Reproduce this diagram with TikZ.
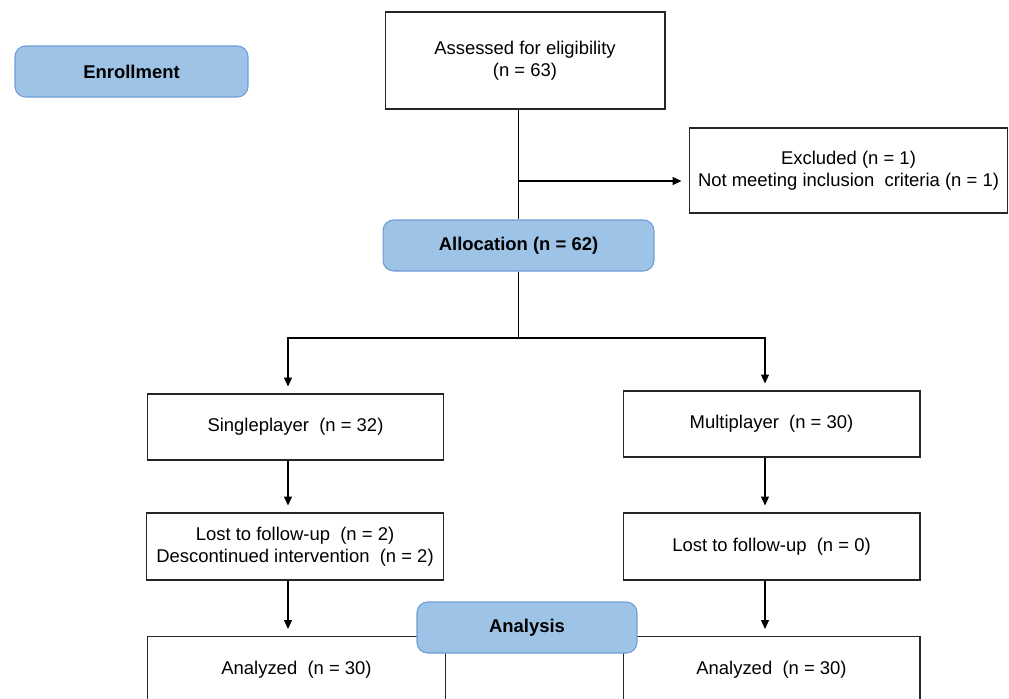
\documentclass[tikz,border=0pt]{standalone}
\usepackage{fontspec}
\setmainfont{Liberation Sans}
\usetikzlibrary{arrows.meta}
\definecolor{phasefill}{RGB}{157,195,230}
\definecolor{phaseline}{RGB}{112,156,214}

\begin{document}
\begin{tikzpicture}[x=0.02cm,y=-0.02cm,line width=0.6pt,
  font=\fontsize{10.5}{12.5}\selectfont,
  box/.style={draw=black!85,fill=white,align=center,inner sep=0pt},
  phase/.style={draw=phaseline,fill=phasefill,rounded corners=6pt,inner sep=0pt,
    font=\fontsize{10.5}{12.5}\selectfont\bfseries},
  arr/.style={-{Triangle[length=5pt,width=4.5pt]},shorten >=4pt}]
  \useasboundingbox (0,0) rectangle (1009,698);
  \clip (0,0) rectangle (1009,698);

  \node[phase,minimum width=4.66cm,minimum height=1.02cm] (enroll) at (131.5,71.5) {Enrollment};
  \node[box,minimum width=5.6cm,minimum height=1.94cm] (assess) at (525,60.5) {Assessed for eligibility\\(n = 63)};
  \node[box,minimum width=6.38cm,minimum height=1.7cm] (excl) at (848.5,170.5) {Excluded (n = 1)\\Not meeting inclusion\ \ criteria (n = 1)};
  \node[phase,minimum width=5.42cm,minimum height=1.02cm] (alloc) at (518.5,245.5) {Allocation (n = 62)};

  \node[box,minimum width=5.94cm,minimum height=1.32cm] (single) at (295.5,427) {Singleplayer\ \ (n = 32)};
  \node[box,minimum width=5.94cm,minimum height=1.32cm] (multi) at (771.5,424) {Multiplayer\ \ (n = 30)};
  \node[box,minimum width=5.96cm,minimum height=1.34cm] (lostL) at (295,546.5) {Lost to follow-up\ \ (n = 2)\\Descontinued intervention\ \ (n = 2)};
  \node[box,minimum width=5.94cm,minimum height=1.34cm] (lostR) at (771.5,546.5) {Lost to follow-up\ \ (n = 0)};
  \node[box,minimum width=5.98cm,minimum height=1.34cm] (anaL) at (296.5,670) {Analyzed\ \ (n = 30)};
  \node[box,minimum width=5.94cm,minimum height=1.34cm] (anaR) at (771.5,670) {Analyzed\ \ (n = 30)};
  \node[phase,minimum width=4.4cm,minimum height=1.02cm] (analysis) at (527,627.5) {Analysis};

  \coordinate (excljoin) at (518,181);
  \coordinate (split) at (518.5,338);
  \coordinate (colL) at (288,338);
  \coordinate (colR) at (765,338);
  \draw (alloc.north) -- (alloc.north |- assess.south);
  \draw[arr] (excljoin) -- (excljoin -| excl.west);
  \draw (alloc.south) -- (split);
  \draw[arr] (split) -- (colL) -- (colL |- single.north);
  \draw[arr] (split) -- (colR) -- (colR |- multi.north);
  \draw[arr] (colL |- single.south) -- (colL |- lostL.north);
  \draw[arr] (colR |- multi.south) -- (colR |- lostR.north);
  \draw[arr] (colL |- lostL.south) -- (colL |- anaL.north);
  \draw[arr] (colR |- lostR.south) -- (colR |- anaR.north);
\end{tikzpicture}
\end{document}
